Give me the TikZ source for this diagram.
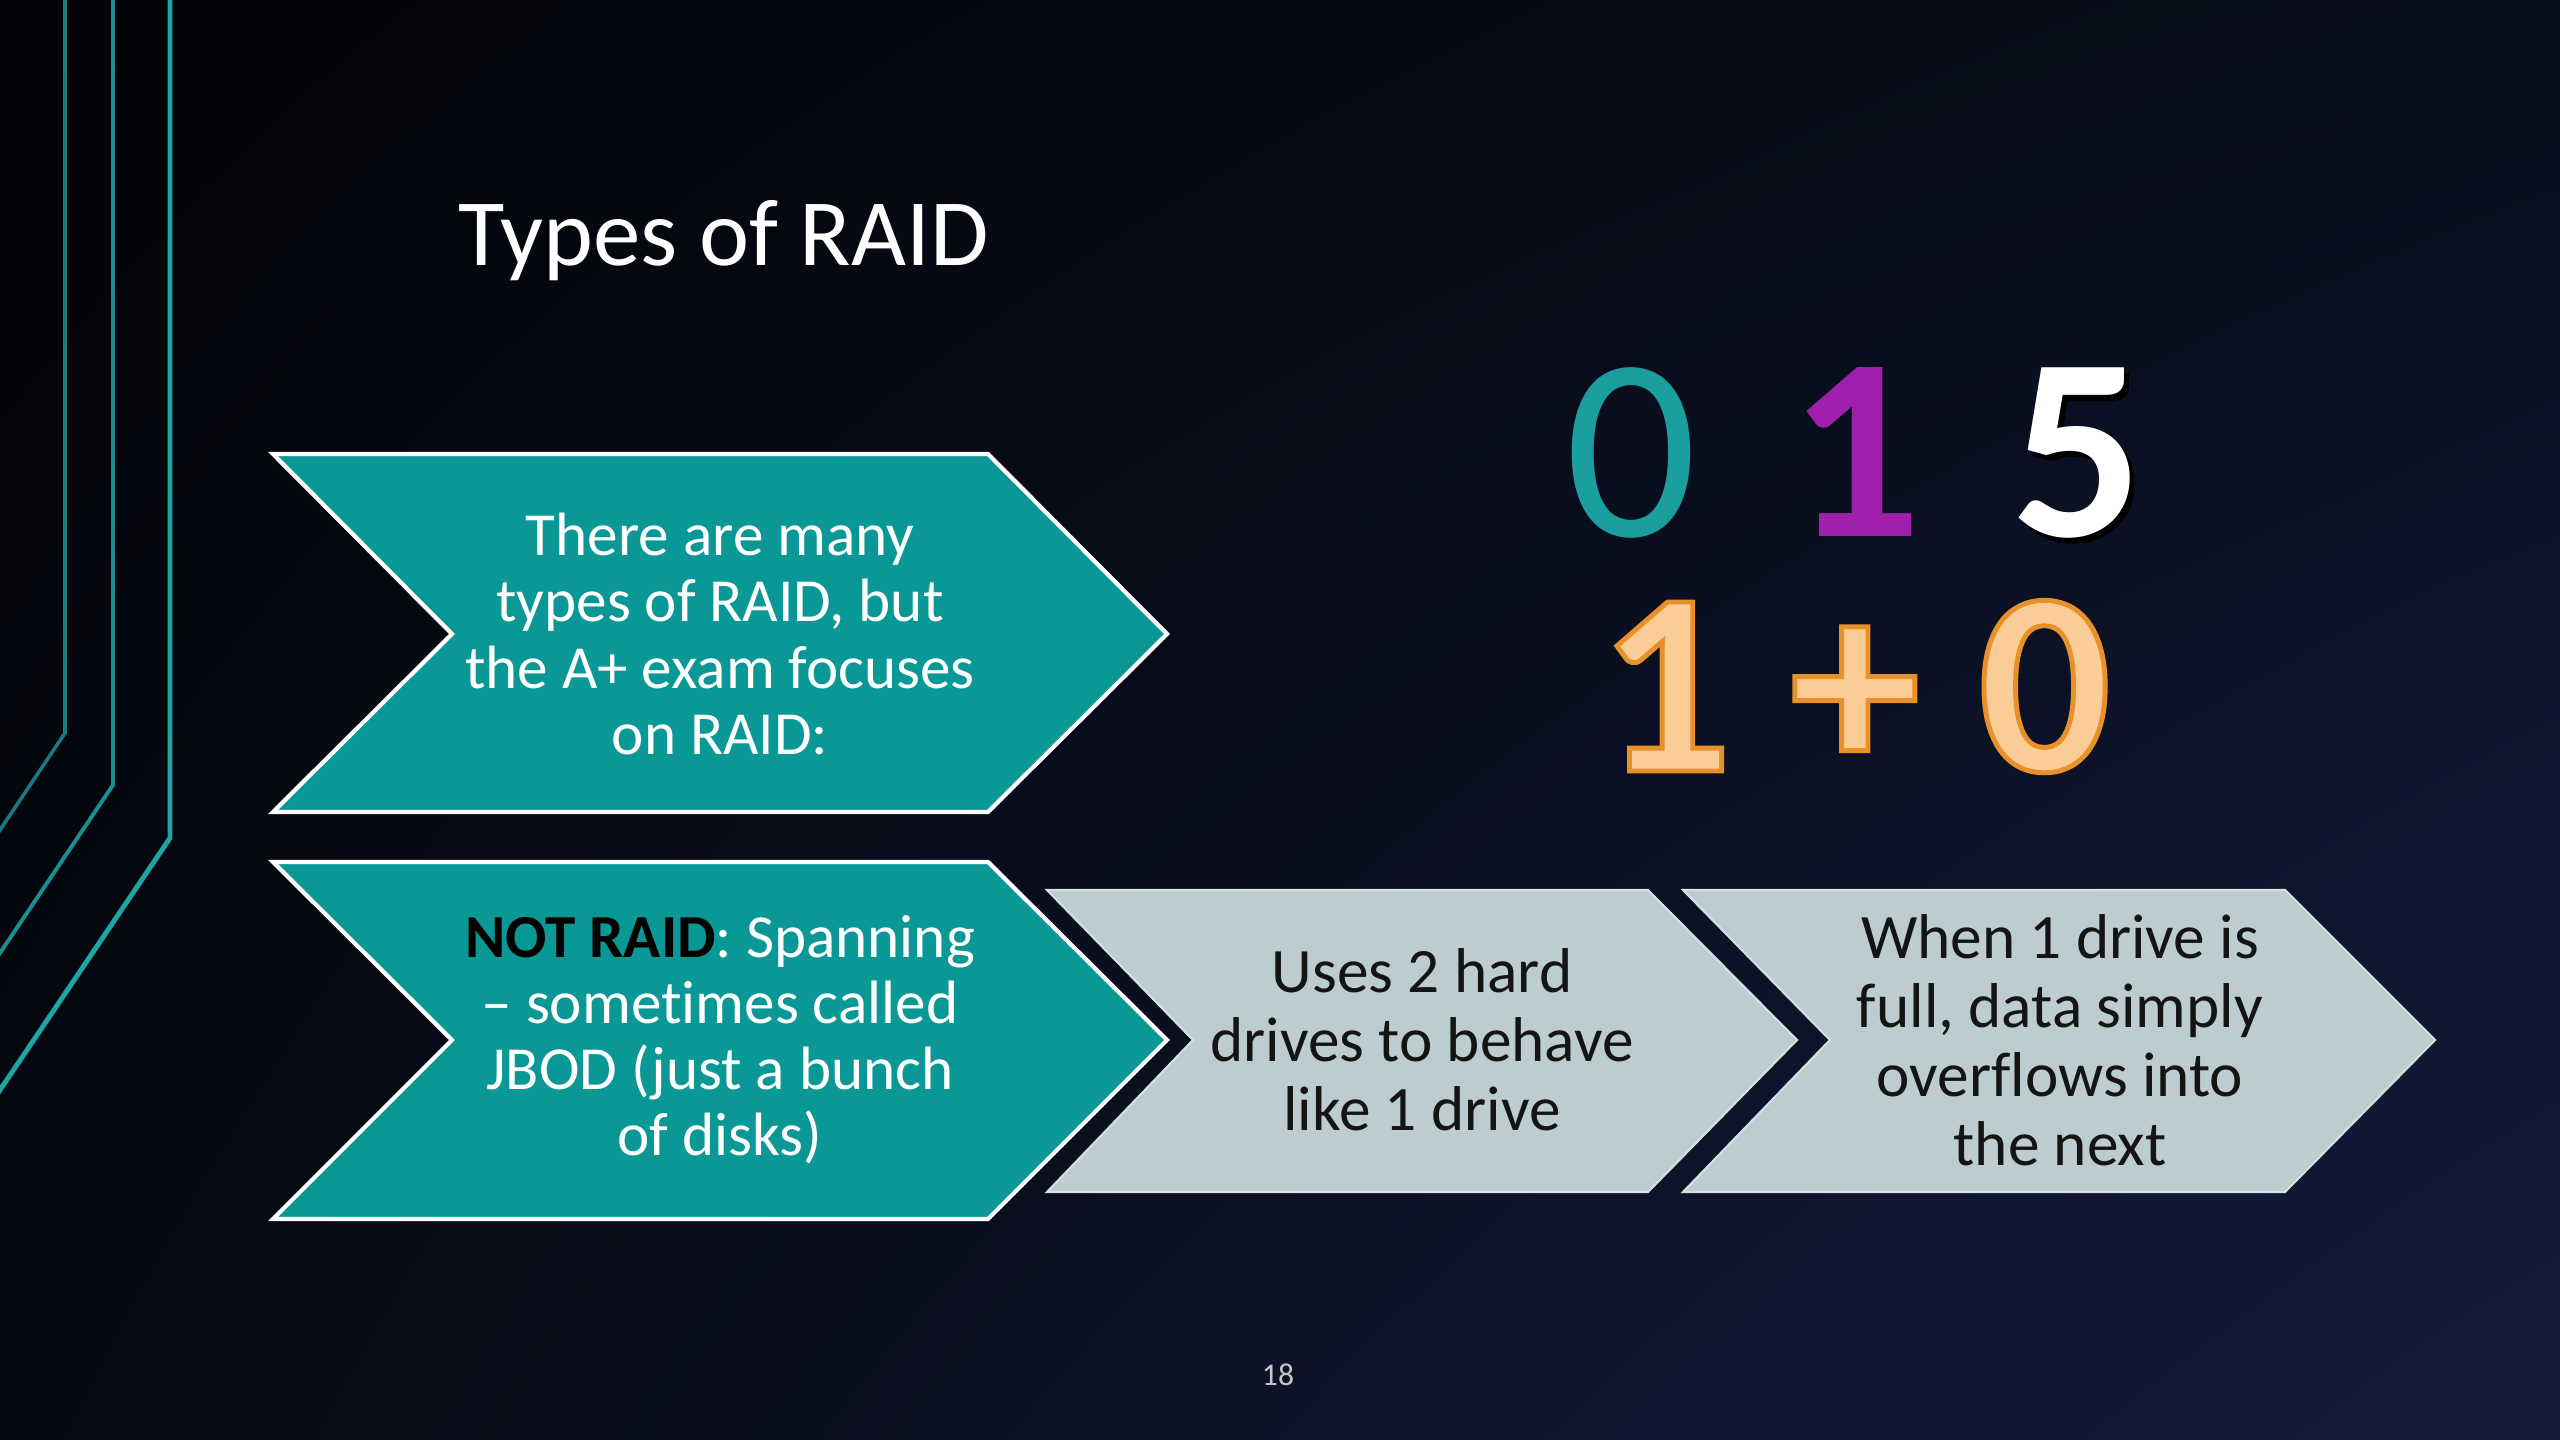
\documentclass[tikz,border=0pt]{standalone}
\usepackage{fontspec}
\setmainfont{Carlito}[Ligatures=NoCommon]
\usetikzlibrary{shadings, calc}
\definecolor{bgTL}{HTML}{030408}
\definecolor{bgTR}{HTML}{080D1C}
\definecolor{bgBL}{HTML}{060912}
\definecolor{bgBR}{HTML}{141C3E}
\definecolor{raidteal}{HTML}{0A9896}
\definecolor{raidgray}{HTML}{BDCCCF}
\definecolor{raidgrayedge}{HTML}{D4E0E2}
\definecolor{numteal}{HTML}{1A9E9E}
\definecolor{raidpurple}{HTML}{A01FAC}
\definecolor{raidpeach}{HTML}{F9CD95}
\definecolor{lineA}{HTML}{167E80}
\definecolor{lineB}{HTML}{1A9092}
\definecolor{lineC}{HTML}{1FA4A4}
% outlined text: fill in the current colour, stroke in orange
\newcommand{\rimtext}[1]{\special{pdf:literal direct 0.91 0.565 0.165 RG 1.4 w 2 Tr}#1\special{pdf:literal direct 0 Tr}}
\tikzset{
  x=0.01cm, y=-0.01cm, % one unit is one pixel of the slide, y runs down
  chevteal/.style={fill=raidteal, draw=white, line width=1.2pt}, % teal steps with white rim
  chevgray/.style={fill=raidgray, draw=raidgrayedge, line width=0.6pt}, % grey steps
  steptext/.style={align=center, text=white, inner sep=0pt, font=\fontsize{17.4}{18.8}\selectfont},
  graytext/.style={align=center, text=black!92, inner sep=0pt, font=\fontsize{18}{19.6}\selectfont},
  bignum/.style={anchor=base, inner sep=0pt, font=\fontsize{74}{74}\selectfont},
  bignumbf/.style={anchor=base, inner sep=0pt, font=\fontsize{74}{74}\selectfont\bfseries},
}
\begin{document}
\begin{tikzpicture}
  \useasboundingbox (0,0) rectangle (2560,1440);
  \shade[upper left=bgTL, upper right=bgTR, lower left=bgBL, lower right=bgBR] (0,0) rectangle (2560,1440);

  % side lines
  \foreach \x/\bend/\yend/\w/\c in {65/733/830/1.0/lineA, 113/785/953/1.1/lineB, 170/838/1090/1.4/lineC}
    \draw[line width=\w pt, draw=\c] (\x,-20) -- (\x,\bend) -- (0,\yend) -- ($(0,\yend)!-0.2!(\x,\bend)$);

  \node[anchor=base west, inner sep=0pt, text=white, font=\fontsize{27}{32}\selectfont] (title) at (458,266) {Types of RAID};

  % chevrons
  \draw[chevteal] (273,454) -- (988,454) -- (1167,634) -- (988,812) -- (273,812) -- (452,634) -- cycle;
  \draw[chevteal] (273,862) -- (988,862) -- (1167,1040) -- (988,1219) -- (273,1219) -- (452,1040) -- cycle;
  \draw[chevgray] (1047,890) -- (1648,890) -- (1797,1040) -- (1648,1192) -- (1047,1192) -- (1193,1040) -- cycle;
  \draw[chevgray] (1683,890) -- (2285,890) -- (2435,1040) -- (2285,1192) -- (1683,1192) -- (1830,1040) -- cycle;

  \node[steptext] (many) at (720,634) {There are many\\types of RAID, but\\the A+ exam focuses\\on RAID:};
  \node[steptext] (jbod) at (720,1040) {\textbf{\color{black}NOT RAID}: Spanning\\– sometimes called\\JBOD (just a bunch\\of disks)};
  \node[graytext] (twodrives) at (1422,1040) {Uses 2 hard\\drives to behave\\like 1 drive};
  \node[graytext] (overflow) at (2060,1040) {When 1 drive is\\full, data simply\\overflows into\\the next};

  % levels
  \node[bignum, text=numteal] (raid0) at (1631,537) {0};
  \node[bignumbf, text=raidpurple] (raid1) at (1855,537) {1};
  \node[bignumbf, text=black] (raid5shadow) at ([shift={(1.6pt,-1.6pt)}]2077,537) {5};
  \node[bignumbf, text=white] (raid5) at (2077,537) {5};
  \node[bignumbf, text=raidpeach] (raid10) at (1855,771) {\rimtext{1 + 0}};

  \node[text=gray!45!white, font=\fontsize{9}{10}\selectfont] (pagenum) at (1278,1375) {18};
\end{tikzpicture}
\end{document}
